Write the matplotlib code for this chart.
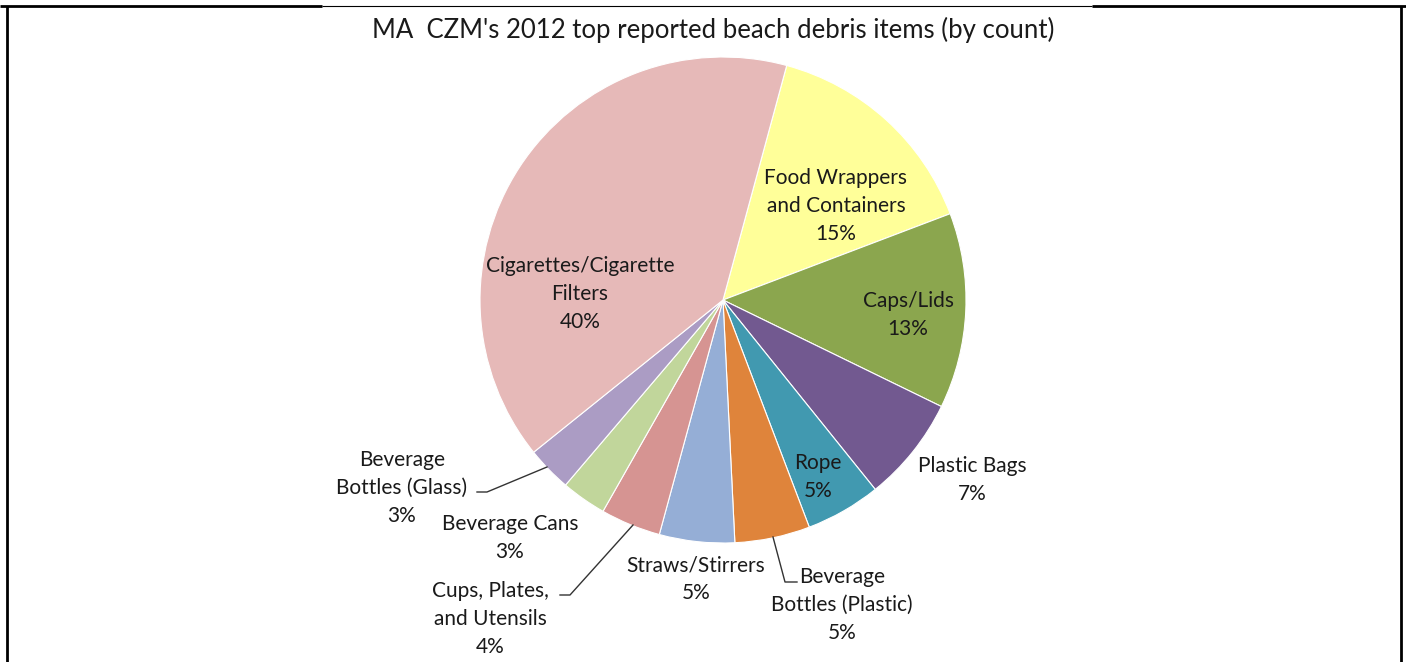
import numpy as np
import matplotlib.pyplot as plt
from matplotlib.lines import Line2D

plt.rcParams['font.family'] = ['Lato', 'DejaVu Sans']

# slices in clockwise order, starting with the slice just right of the top
items = ['Food Wrappers\nand Containers', 'Caps/Lids', 'Plastic Bags', 'Rope',
         'Beverage\nBottles (Plastic)', 'Straws/Stirrers', 'Cups, Plates,\nand Utensils',
         'Beverage Cans', 'Beverage\nBottles (Glass)', 'Cigarettes/Cigarette\nFilters']
shares = [15, 13, 7, 5, 5, 5, 4, 3, 3, 40]
colors = ['#FFFF99', '#8BA64E', '#725990', '#4199B0', '#DF843B',
          '#95AED6', '#D69492', '#C1D69B', '#AB9CC4', '#E6B9B8']

W, H = 1406, 662
cx, cy, R = 723, H - 300, 243

# label centres in pixels (x, y from top) and leader lines (pixel paths)
label_pos = [(836, 206), (908, 315), (972, 480), (818, 477), (842, 605),
             (696, 579), (490, 619), (510, 538), (402, 488), (580, 294)]
leaders = {4: [(773, 537), (785, 582), (797, 582)],
           6: [(633, 525), (570, 595), (560, 595)],
           8: [(547, 467), (487, 492), (477, 492)]}

fig = plt.figure(figsize=(W / 100, H / 100), dpi=100)
ax = fig.add_axes([0, 0, 1, 1])

ax.pie(shares, colors=colors, startangle=90 - 15.2, counterclock=False,
       center=(cx, cy), radius=R,
       wedgeprops=dict(edgecolor='white', linewidth=0.8))
ax.set_xlim(0, W)
ax.set_ylim(0, H)
ax.set_aspect('equal')
ax.axis('off')

for i, (name, v) in enumerate(zip(items, shares)):
    x, y = label_pos[i]
    ax.text(x, H - y, f'{name}\n{v}%', ha='center', va='center',
            fontsize=15, color='#1a1a1a', linespacing=1.48)

for i, path in leaders.items():
    xs = [p[0] for p in path]
    ys = [H - p[1] for p in path]
    ax.plot(xs, ys, color='#333333', lw=1.0)

ax.text(713, H - 30, "MA  CZM's 2012 top reported beach debris items (by count)",
        ha='center', va='center', fontsize=18.5, color='#1a1a1a')

# chart frame
frame = [([7, 7], [0, H - 6], 2.0), ([1401, 1401], [0, H - 6], 2.0),
         ([0, 322], [H - 6, H - 6], 2.0), ([1092, W], [H - 6, H - 6], 2.0),
         ([322, 1092], [H - 6, H - 6], 0.8)]
for xs, ys, lw in frame:
    ax.add_line(Line2D(xs, ys, color='black', lw=lw, solid_capstyle='butt'))

fig.savefig('out.png', dpi=100)
